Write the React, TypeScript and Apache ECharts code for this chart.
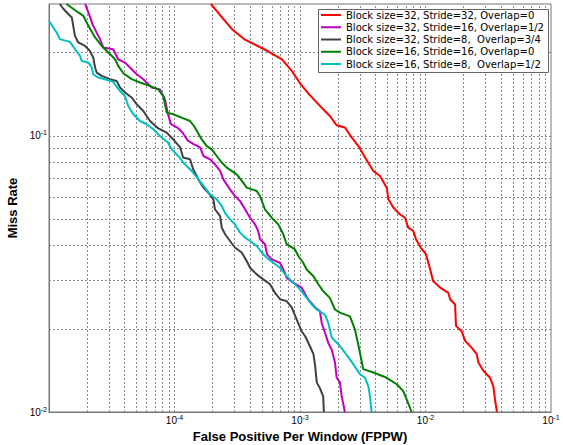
import React, { useEffect, useRef } from 'react';
import * as echarts from 'echarts';

const seriesNames = [
  'Block size=32, Stride=32, Overlap=0',
  'Block size=32, Stride=16, Overlap=1/2',
  'Block size=32, Stride=8,  Overlap=3/4',
  'Block size=16, Stride=16, Overlap=0',
  'Block size=16, Stride=8,  Overlap=1/2',
];
const seriesColors = ['#ff0000', '#c000c0', '#404040', '#008000', '#00bfbf'];

// Block 32 / Stride 32
const redFppw = [1.95e-4, 2.39e-4, 2.87e-4, 3.58e-4, 4.46e-4, 5.56e-4, 7.19e-4, 8.63e-4, 1.0e-3, 1.16e-3, 1.29e-3, 1.53e-3, 1.73e-3, 1.96e-3, 2.28e-3, 2.58e-3, 2.92e-3, 3.3e-3, 3.84e-3, 4.34e-3, 4.91e-3, 5.06e-3, 5.54e-3, 6.26e-3, 6.87e-3, 7.29e-3, 8.0e-3, 8.4e-3, 9.16e-3, 1.01e-2, 1.09e-2, 1.15e-2, 1.31e-2, 1.52e-2, 1.57e-2, 1.72e-2, 1.75e-2, 1.94e-2, 2.07e-2, 2.33e-2, 2.56e-2, 2.64e-2, 2.89e-2, 3.27e-2, 3.47e-2, 3.58e-2, 3.71e-2];
const redMiss = [0.3, 0.2685, 0.2432, 0.2239, 0.2128, 0.2023, 0.1892, 0.1714, 0.1549, 0.1426, 0.1355, 0.1247, 0.118, 0.1091, 0.1071, 0.0986, 0.0918, 0.0834, 0.0746, 0.0715, 0.0649, 0.0589, 0.055, 0.0519, 0.0505, 0.0465, 0.0452, 0.0422, 0.0394, 0.0372, 0.0328, 0.0298, 0.0282, 0.027, 0.0256, 0.0245, 0.0205, 0.0196, 0.0181, 0.0171, 0.0162, 0.0151, 0.0141, 0.0133, 0.0124, 0.0111, 0.01];

// Block 32 / Stride 16
const magentaFppw = [1.94e-5, 2.06e-5, 2.25e-5, 2.55e-5, 2.71e-5, 3.25e-5, 3.56e-5, 4.03e-5, 4.56e-5, 5.0e-5, 5.64e-5, 6.58e-5, 7.66e-5, 8.4e-5, 8.87e-5, 9.38e-5, 1.07e-4, 1.17e-4, 1.27e-4, 1.41e-4, 1.6e-4, 1.7e-4, 1.92e-4, 2.1e-4, 2.31e-4, 2.45e-4, 2.77e-4, 3.03e-4, 3.33e-4, 3.65e-4, 4.0e-4, 4.38e-4, 4.65e-4, 4.8e-4, 5.26e-4, 5.46e-4, 5.95e-4, 6.93e-4, 7.59e-4, 7.83e-4, 8.84e-4, 1.03e-3, 1.16e-3, 1.32e-3, 1.44e-3, 1.49e-3, 1.58e-3, 1.68e-3, 1.79e-3, 1.9e-3, 1.96e-3, 2.08e-3, 2.15e-3, 2.28e-3];
const magentaMiss = [0.3, 0.2796, 0.25, 0.2239, 0.2087, 0.2058, 0.1892, 0.1841, 0.1742, 0.167, 0.1603, 0.1495, 0.1472, 0.1355, 0.1197, 0.1101, 0.1065, 0.1021, 0.0963, 0.0935, 0.0908, 0.0845, 0.0822, 0.0788, 0.0746, 0.0695, 0.064, 0.0605, 0.058, 0.0542, 0.0505, 0.0478, 0.0452, 0.0422, 0.0405, 0.0372, 0.0357, 0.0347, 0.0319, 0.0306, 0.0294, 0.0282, 0.0256, 0.0239, 0.0232, 0.021, 0.0194, 0.0178, 0.0168, 0.0151, 0.0133, 0.0128, 0.0114, 0.01];

// Block 32 / Stride 8
const grayFppw = [1.22e-5, 1.3e-5, 1.43e-5, 1.52e-5, 1.56e-5, 1.61e-5, 1.71e-5, 1.94e-5, 2.12e-5, 2.25e-5, 2.33e-5, 2.4e-5, 2.63e-5, 3.06e-5, 3.46e-5, 3.68e-5, 4.03e-5, 4.56e-5, 5.0e-5, 5.64e-5, 6.38e-5, 7.32e-5, 8.67e-5, 9.78e-5, 1.11e-4, 1.17e-4, 1.33e-4, 1.41e-4, 1.55e-4, 1.7e-4, 1.86e-4, 2.04e-4, 2.1e-4, 2.31e-4, 2.38e-4, 2.53e-4, 2.77e-4, 3.03e-4, 3.43e-4, 3.76e-4, 4.0e-4, 4.52e-4, 5.1e-4, 5.77e-4, 6.32e-4, 6.93e-4, 7.83e-4, 8.59e-4, 9.42e-4, 1.03e-3, 1.1e-3, 1.2e-3, 1.28e-3, 1.32e-3, 1.36e-3, 1.44e-3, 1.53e-3, 1.55e-3];
const grayMiss = [0.3, 0.2884, 0.2754, 0.268, 0.25, 0.23, 0.2177, 0.2115, 0.2029, 0.192, 0.1767, 0.1694, 0.1647, 0.1603, 0.158, 0.1495, 0.1434, 0.1376, 0.13, 0.123, 0.1131, 0.1069, 0.1027, 0.097, 0.0908, 0.0834, 0.0822, 0.0757, 0.0695, 0.0649, 0.0622, 0.0589, 0.0542, 0.0512, 0.0465, 0.044, 0.0416, 0.0394, 0.0378, 0.0352, 0.0333, 0.0315, 0.0302, 0.029, 0.027, 0.0256, 0.0252, 0.0239, 0.0216, 0.0196, 0.0188, 0.0173, 0.0162, 0.0147, 0.0128, 0.0122, 0.0114, 0.01];

// Block 16 / Stride 16
const greenFppw = [1.38e-5, 1.71e-5, 1.88e-5, 2.06e-5, 2.33e-5, 2.63e-5, 2.97e-5, 3.36e-5, 3.56e-5, 3.91e-5, 4.56e-5, 5.31e-5, 6.58e-5, 7.43e-5, 8.14e-5, 8.67e-5, 9.78e-5, 1.14e-4, 1.33e-4, 1.43e-4, 1.65e-4, 1.81e-4, 1.98e-4, 2.17e-4, 2.38e-4, 2.61e-4, 3.13e-4, 3.53e-4, 3.76e-4, 4.52e-4, 4.8e-4, 5.26e-4, 5.95e-4, 6.71e-4, 7.36e-4, 7.83e-4, 9.12e-4, 9.69e-4, 1.06e-3, 1.13e-3, 1.28e-3, 1.4e-3, 1.53e-3, 1.73e-3, 1.9e-3, 2.08e-3, 2.5e-3, 2.74e-3, 2.91e-3, 3.19e-3, 3.84e-3, 4.91e-3, 5.9e-3, 6.65e-3, 7.08e-3, 7.76e-3];
const greenMiss = [0.3, 0.2796, 0.2716, 0.25, 0.227, 0.2115, 0.2001, 0.1892, 0.1791, 0.1684, 0.1603, 0.1559, 0.1507, 0.1472, 0.1393, 0.1213, 0.1197, 0.1164, 0.1131, 0.1085, 0.097, 0.0918, 0.0893, 0.0845, 0.08, 0.0767, 0.0725, 0.0677, 0.0649, 0.0631, 0.0605, 0.0542, 0.0505, 0.0478, 0.044, 0.0405, 0.0388, 0.0367, 0.0347, 0.0328, 0.031, 0.029, 0.0274, 0.0259, 0.0235, 0.0229, 0.0222, 0.0199, 0.0176, 0.0143, 0.0139, 0.0133, 0.0126, 0.0119, 0.0111, 0.01];

// Block 16 / Stride 8
const cyanFppw = [1.0e-5, 1.08e-5, 1.15e-5, 1.22e-5, 1.47e-5, 1.61e-5, 1.77e-5, 1.82e-5, 2.06e-5, 2.19e-5, 2.25e-5, 2.47e-5, 2.79e-5, 3.25e-5, 3.46e-5, 3.68e-5, 4.03e-5, 4.28e-5, 4.7e-5, 5.31e-5, 6.0e-5, 6.78e-5, 7.66e-5, 8.87e-5, 9.51e-5, 1.07e-4, 1.21e-4, 1.37e-4, 1.55e-4, 1.75e-4, 1.92e-4, 2.17e-4, 2.38e-4, 2.53e-4, 2.77e-4, 3.03e-4, 3.33e-4, 3.65e-4, 4.0e-4, 4.52e-4, 4.95e-4, 5.43e-4, 6.12e-4, 6.93e-4, 7.83e-4, 8.84e-4, 1.0e-3, 1.13e-3, 1.24e-3, 1.36e-3, 1.58e-3, 1.68e-3, 1.79e-3, 2.02e-3, 2.28e-3, 2.5e-3, 3.01e-3, 3.3e-3, 3.5e-3, 3.61e-3, 3.72e-3];
const cyanMiss = [0.2606, 0.2466, 0.2366, 0.2239, 0.2188, 0.2061, 0.1945, 0.1866, 0.1841, 0.1767, 0.167, 0.1625, 0.1603, 0.1567, 0.1507, 0.1453, 0.1393, 0.1282, 0.1197, 0.1131, 0.1101, 0.1056, 0.0998, 0.0945, 0.0893, 0.0845, 0.0788, 0.0746, 0.0695, 0.0649, 0.0614, 0.0589, 0.0557, 0.0525, 0.0498, 0.0478, 0.0446, 0.0428, 0.0416, 0.0399, 0.0378, 0.0362, 0.0347, 0.0333, 0.031, 0.0294, 0.0278, 0.0259, 0.0245, 0.0235, 0.0225, 0.021, 0.0186, 0.0176, 0.0164, 0.0155, 0.0137, 0.0133, 0.0124, 0.0114, 0.01];

// grid line positions (log-decade minors)
const xGridValues = [
  2e-5, 3e-5, 4e-5, 5e-5, 6e-5, 7e-5, 8e-5, 9e-5,
  1e-4, 2e-4, 3e-4, 4e-4, 5e-4, 6e-4, 7e-4, 8e-4, 9e-4,
  1e-3, 2e-3, 3e-3, 4e-3, 5e-3, 6e-3, 7e-3, 8e-3, 9e-3,
  1e-2, 2e-2, 3e-2, 4e-2, 5e-2, 6e-2, 7e-2, 8e-2, 9e-2,
];
const yGridValues = [0.02, 0.03, 0.04, 0.05, 0.06, 0.07, 0.08, 0.09, 0.1, 0.2];

const xMin = 1e-5;
const xMax = 1e-1;
const yMin = 0.01;
const yMax = 0.3;

const FONT = '"Liberation Sans", Arial, sans-serif';
const LEGEND_FONT = '"DejaVu Sans", sans-serif';

const zip = (xs: number[], ys: number[]) =>
  xs.slice(0, Math.min(xs.length, ys.length)).map((x, i) => [x, ys[i]]);

const decadeLabel = (v: number) => {
  const l = Math.log10(v);
  const e = Math.round(l);
  if (Math.abs(l - e) > 1e-6) return '';
  return `{b|10}{s|${e < 0 ? '-' : ''}${Math.abs(e)}}`;
};

const labelRich = {
  b: { fontSize: 10, fontFamily: FONT, color: '#000' },
  s: { fontSize: 7, fontFamily: FONT, color: '#000', padding: [0, 0, 6, 0] },
};

export default function App() {
  const ref = useRef<HTMLDivElement>(null);

  useEffect(() => {
    if (!ref.current) return;
    const chart = echarts.init(ref.current, undefined, { renderer: 'svg' });
    const dataSets = [
      zip(redFppw, redMiss),
      zip(magentaFppw, magentaMiss),
      zip(grayFppw, grayMiss),
      zip(greenFppw, greenMiss),
      zip(cyanFppw, cyanMiss),
    ];
    const gridLineStyle = { color: '#8a8a8a', width: 1, type: [2, 2] as any };

    const option: any = {
      animation: false,
      backgroundColor: '#fff',
      grid: {
        left: 49,
        right: 12,
        top: 4,
        bottom: 33,
        containLabel: false,
        outerBoundsMode: 'none',
        show: true,
        borderColor: '#777',
        borderWidth: 1,
        backgroundColor: 'transparent',
      },
      xAxis: {
        type: 'log',
        logBase: 10,
        min: xMin,
        max: xMax,
        name: 'False Positive Per Window (FPPW)',
        nameLocation: 'middle',
        nameGap: 17,
        nameTextStyle: { fontFamily: FONT, fontSize: 13, fontWeight: 'bold', color: '#000' },
        axisLine: { show: true, lineStyle: { color: '#777', width: 1 } },
        axisTick: { show: false },
        splitLine: { show: false },
        axisLabel: {
          show: true,
          margin: 2,
          showMinLabel: false,
          formatter: (v: number) => decadeLabel(v),
          rich: labelRich,
        },
      },
      yAxis: {
        type: 'log',
        logBase: 10,
        min: yMin,
        max: yMax,
        name: 'Miss Rate',
        nameLocation: 'middle',
        nameRotate: 90,
        nameGap: 22,
        nameTextStyle: { fontFamily: FONT, fontSize: 13, fontWeight: 'bold', color: '#000' },
        axisLine: { show: true, lineStyle: { color: '#777', width: 1 } },
        axisTick: { show: false },
        splitLine: { show: false },
        axisLabel: {
          show: true,
          margin: 2,
          showMaxLabel: false,
          formatter: (v: number) => decadeLabel(v),
          rich: labelRich,
        },
      },
      legend: {
        data: seriesNames,
        orient: 'vertical',
        left: 321,
        top: 9,
        z: 20,
        padding: 0,
        itemGap: 0.25,
        itemWidth: 20,
        itemHeight: 2,
        icon: 'rect',
        selectedMode: false,
        textStyle: { fontFamily: LEGEND_FONT, fontSize: 10, color: '#000', lineHeight: 12 },
      },
      graphic: [
        {
          type: 'rect',
          z: 10,
          silent: true,
          shape: { x: 318.5, y: 9.5, width: 230, height: 63 },
          style: { fill: '#fff', stroke: '#666', lineWidth: 1 },
        },
      ],
      series: [
        {
          name: '__grid',
          type: 'line',
          data: [],
          silent: true,
          markLine: {
            silent: true,
            z: 1,
            precision: 10,
            symbol: ['none', 'none'],
            label: { show: false },
            lineStyle: gridLineStyle,
            emphasis: { disabled: true },
            data: [
              ...xGridValues.map((v) => ({ xAxis: v })),
              ...yGridValues.map((v) => ({ yAxis: v })),
            ],
          },
        },
        ...dataSets.map((d, i) => ({
          name: seriesNames[i],
          type: 'line',
          data: d,
          z: 3,
          showSymbol: false,
          symbol: 'none',
          clip: true,
          color: seriesColors[i],
          lineStyle: { color: seriesColors[i], width: 2 },
          emphasis: { disabled: true },
        })),
      ],
    };
    chart.setOption(option);
    return () => chart.dispose();
  }, []);

  return (
    <div
      ref={ref}
      style={{ position: 'fixed', left: 0, top: 0, width: 563, height: 445, background: '#fff' }}
    />
  );
}
